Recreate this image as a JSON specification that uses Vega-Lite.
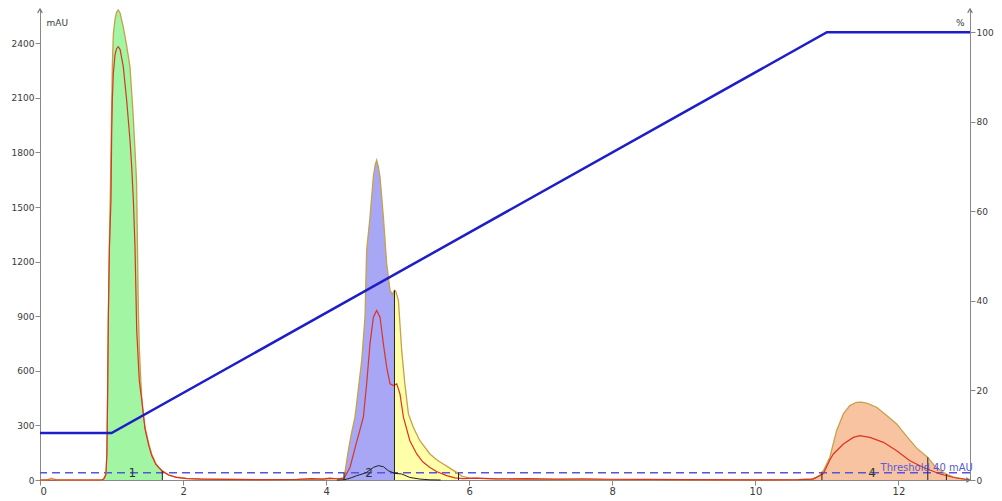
{
  "$schema": "https://vega.github.io/schema/vega-lite/v6.json",
  "width": 930,
  "height": 471,
  "autosize": {"type": "none"},
  "padding": {"left": 40, "top": 9, "right": 32, "bottom": 21},
  "background": "white",
  "config": {
    "view": {"stroke": null},
    "font": "DejaVu Sans",
    "axis": {"grid": false, "domainColor": "#888888", "tickColor": "#888888", "labelColor": "#3a3a3a", "labelFontSize": 9, "tickSize": 5, "labelPadding": 1, "titleColor": "#3a3a3a", "titleFontSize": 9, "titleFontWeight": "normal", "format": "d"},
    "axisLeft": {"titleAngle": 0, "titleAlign": "left", "titleBaseline": "middle", "titleX": 6, "titleY": 13},
    "axisRight": {"titleAngle": 0, "titleAlign": "right", "titleBaseline": "middle", "titleX": -6, "titleY": 13},
    "axisBottom": {"labelFontSize": 10}
  },
  "datasets": {
    "uv": [
      {"x": 0, "v": 0}, {"x": 0.1, "v": 1}, {"x": 0.16, "v": 10}, {"x": 0.22, "v": 2}, {"x": 0.3, "v": 0},
      {"x": 0.6, "v": 0}, {"x": 0.86, "v": 0}, {"x": 0.885, "v": 4}, {"x": 0.905, "v": 12}, {"x": 0.925, "v": 35},
      {"x": 0.935, "v": 150}, {"x": 0.945, "v": 480}, {"x": 0.955, "v": 900}, {"x": 0.97, "v": 1300}, {"x": 0.985, "v": 1620},
      {"x": 1.0, "v": 2000}, {"x": 1.011, "v": 2270}, {"x": 1.025, "v": 2450}, {"x": 1.048, "v": 2530}, {"x": 1.07, "v": 2570},
      {"x": 1.094, "v": 2583}, {"x": 1.12, "v": 2565}, {"x": 1.14, "v": 2530}, {"x": 1.164, "v": 2490}, {"x": 1.21, "v": 2390},
      {"x": 1.258, "v": 2270}, {"x": 1.3, "v": 2020}, {"x": 1.328, "v": 1812}, {"x": 1.35, "v": 1640}, {"x": 1.362, "v": 1300},
      {"x": 1.374, "v": 950}, {"x": 1.388, "v": 730}, {"x": 1.405, "v": 580}, {"x": 1.422, "v": 455}, {"x": 1.445, "v": 360},
      {"x": 1.468, "v": 290}, {"x": 1.52, "v": 200}, {"x": 1.561, "v": 143}, {"x": 1.62, "v": 90}, {"x": 1.66, "v": 68},
      {"x": 1.71, "v": 50}, {"x": 1.8, "v": 28}, {"x": 1.91, "v": 15}, {"x": 2.05, "v": 9}, {"x": 2.24, "v": 6},
      {"x": 2.5, "v": 4}, {"x": 3.0, "v": 2}, {"x": 3.5, "v": 2}, {"x": 3.8, "v": 4}, {"x": 4.0, "v": 5},
      {"x": 4.15, "v": 6}, {"x": 4.25, "v": 10}, {"x": 4.31, "v": 161}, {"x": 4.35, "v": 250}, {"x": 4.403, "v": 345},
      {"x": 4.45, "v": 500}, {"x": 4.497, "v": 657}, {"x": 4.543, "v": 895}, {"x": 4.566, "v": 1262}, {"x": 4.613, "v": 1445},
      {"x": 4.659, "v": 1665}, {"x": 4.685, "v": 1730}, {"x": 4.706, "v": 1757}, {"x": 4.73, "v": 1720}, {"x": 4.753, "v": 1665},
      {"x": 4.8, "v": 1445}, {"x": 4.846, "v": 1189}, {"x": 4.893, "v": 1042}, {"x": 4.925, "v": 1020}, {"x": 4.955, "v": 1042},
      {"x": 4.97, "v": 1040}, {"x": 5.01, "v": 987}, {"x": 5.056, "v": 712}, {"x": 5.1, "v": 528}, {"x": 5.15, "v": 363},
      {"x": 5.218, "v": 290}, {"x": 5.31, "v": 216}, {"x": 5.45, "v": 143}, {"x": 5.55, "v": 110}, {"x": 5.637, "v": 88},
      {"x": 5.75, "v": 60}, {"x": 5.824, "v": 42}, {"x": 5.85, "v": 35}, {"x": 5.9, "v": 20}, {"x": 6.0, "v": 12},
      {"x": 6.3, "v": 6}, {"x": 6.8, "v": 3}, {"x": 7.5, "v": 2}, {"x": 8.5, "v": 2}, {"x": 9.5, "v": 1},
      {"x": 10.3, "v": 1}, {"x": 10.6, "v": 2}, {"x": 10.763, "v": 4}, {"x": 10.85, "v": 15}, {"x": 10.9, "v": 24},
      {"x": 10.93, "v": 40}, {"x": 10.95, "v": 51}, {"x": 11.04, "v": 124}, {"x": 11.135, "v": 271}, {"x": 11.23, "v": 363},
      {"x": 11.32, "v": 409}, {"x": 11.41, "v": 427}, {"x": 11.48, "v": 428}, {"x": 11.556, "v": 422}, {"x": 11.695, "v": 400},
      {"x": 11.835, "v": 354}, {"x": 11.975, "v": 308}, {"x": 12.115, "v": 240}, {"x": 12.255, "v": 175}, {"x": 12.41, "v": 124},
      {"x": 12.5, "v": 80}, {"x": 12.58, "v": 55}, {"x": 12.67, "v": 32}, {"x": 12.766, "v": 16}, {"x": 12.95, "v": 3},
      {"x": 13, "v": 0}
    ],
    "red": [
      {"x": 0, "v": 0}, {"x": 0.86, "v": 0}, {"x": 0.89, "v": 5}, {"x": 0.92, "v": 30}, {"x": 0.935, "v": 140},
      {"x": 0.945, "v": 460}, {"x": 0.955, "v": 880}, {"x": 0.97, "v": 1270}, {"x": 0.992, "v": 1537}, {"x": 1.002, "v": 1905},
      {"x": 1.011, "v": 2088}, {"x": 1.025, "v": 2234}, {"x": 1.048, "v": 2334}, {"x": 1.07, "v": 2370}, {"x": 1.094, "v": 2381},
      {"x": 1.12, "v": 2365}, {"x": 1.164, "v": 2271}, {"x": 1.211, "v": 2088}, {"x": 1.258, "v": 1868}, {"x": 1.282, "v": 1720},
      {"x": 1.305, "v": 1537}, {"x": 1.328, "v": 1280}, {"x": 1.352, "v": 822}, {"x": 1.388, "v": 546}, {"x": 1.422, "v": 440},
      {"x": 1.468, "v": 280}, {"x": 1.52, "v": 190}, {"x": 1.561, "v": 135}, {"x": 1.62, "v": 85}, {"x": 1.71, "v": 48},
      {"x": 1.8, "v": 26}, {"x": 1.91, "v": 14}, {"x": 2.05, "v": 8}, {"x": 2.24, "v": 5}, {"x": 2.6, "v": 3},
      {"x": 3.2, "v": 2}, {"x": 3.6, "v": 3}, {"x": 3.8, "v": 8}, {"x": 3.95, "v": 5}, {"x": 4.05, "v": 10},
      {"x": 4.15, "v": 7}, {"x": 4.25, "v": 10}, {"x": 4.333, "v": 69}, {"x": 4.42, "v": 200}, {"x": 4.52, "v": 345},
      {"x": 4.566, "v": 528}, {"x": 4.613, "v": 748}, {"x": 4.66, "v": 895}, {"x": 4.706, "v": 932}, {"x": 4.753, "v": 895},
      {"x": 4.8, "v": 748}, {"x": 4.846, "v": 620}, {"x": 4.893, "v": 528}, {"x": 4.94, "v": 519}, {"x": 4.986, "v": 528},
      {"x": 5.032, "v": 473}, {"x": 5.08, "v": 345}, {"x": 5.17, "v": 216}, {"x": 5.266, "v": 143}, {"x": 5.35, "v": 100},
      {"x": 5.45, "v": 69}, {"x": 5.55, "v": 45}, {"x": 5.685, "v": 24}, {"x": 5.8, "v": 12}, {"x": 5.917, "v": 8},
      {"x": 6.1, "v": 10}, {"x": 6.4, "v": 6}, {"x": 6.8, "v": 8}, {"x": 7.2, "v": 5}, {"x": 7.6, "v": 6},
      {"x": 8.0, "v": 4}, {"x": 8.5, "v": 3}, {"x": 9.0, "v": 2}, {"x": 10.0, "v": 1}, {"x": 10.6, "v": 2},
      {"x": 10.81, "v": 5}, {"x": 10.95, "v": 36}, {"x": 11.04, "v": 110}, {"x": 11.09, "v": 143}, {"x": 11.23, "v": 198},
      {"x": 11.37, "v": 234}, {"x": 11.46, "v": 244}, {"x": 11.6, "v": 234}, {"x": 11.79, "v": 207}, {"x": 11.975, "v": 161},
      {"x": 12.16, "v": 106}, {"x": 12.35, "v": 69}, {"x": 12.58, "v": 33}, {"x": 12.81, "v": 11}, {"x": 13, "v": 0}
    ],
    "black": [
      {"x": 4.15, "v": 0}, {"x": 4.263, "v": 2}, {"x": 4.35, "v": 12}, {"x": 4.427, "v": 24}, {"x": 4.5, "v": 32},
      {"x": 4.566, "v": 42}, {"x": 4.62, "v": 58}, {"x": 4.66, "v": 69}, {"x": 4.729, "v": 79}, {"x": 4.8, "v": 73},
      {"x": 4.869, "v": 51}, {"x": 4.962, "v": 36}, {"x": 5.056, "v": 33}, {"x": 5.17, "v": 14}, {"x": 5.31, "v": 5},
      {"x": 5.45, "v": 1}, {"x": 5.6, "v": 0}
    ],
    "grad": [
      {"x": 0, "p": 10.5}, {"x": 1.0, "p": 10.5}, {"x": 11.0, "p": 100}, {"x": 13, "p": 100}
    ],
    "ticks": [
      {"x": 1.71, "top": 50}, {"x": 4.25, "top": 40}, {"x": 4.955, "top": 1042}, {"x": 5.85, "top": 40},
      {"x": 10.93, "top": 45}, {"x": 12.41, "top": 124}, {"x": 12.67, "top": 32}
    ],
    "labels": [
      {"x": 1.29, "y": 40, "t": "1"}, {"x": 4.6, "y": 40, "t": "2"}, {"x": 11.63, "y": 40, "t": "4"}
    ],
    "thr": [{"x": 11.75, "y": 40, "t": "Threshold 40 mAU"}],
    "arrows": [
      {"x": 0, "y": 2588, "d": "up"}, {"x": 13, "y": 2588, "d": "up"}, {"x": 13, "y": 0, "d": "right"}
    ]
  },
  "layer": [
    {
      "layer": [
        {
          "data": {"name": "uv"},
          "transform": [{"filter": {"field": "x", "range": [0.86, 1.71]}}],
          "mark": {"type": "area", "color": "#a2f5a2", "opacity": 1},
          "encoding": {
            "x": {"field": "x", "type": "quantitative", "scale": {"domain": [0, 13], "nice": false, "zero": false}, "axis": {"values": [0, 2, 4, 6, 8, 10, 12], "title": null}},
            "y": {"field": "v", "type": "quantitative", "scale": {"domain": [0, 2588], "nice": false}, "axis": {"values": [0, 300, 600, 900, 1200, 1500, 1800, 2100, 2400], "title": "mAU"}}
          }
        },
        {
          "data": {"name": "uv"},
          "transform": [{"filter": {"field": "x", "range": [4.25, 4.955]}}],
          "mark": {"type": "area", "color": "#a7a7f6", "opacity": 1},
          "encoding": {
            "x": {"field": "x", "type": "quantitative", "scale": {"domain": [0, 13], "nice": false, "zero": false}, "axis": {"values": [0, 2, 4, 6, 8, 10, 12], "title": null}},
            "y": {"field": "v", "type": "quantitative", "scale": {"domain": [0, 2588], "nice": false}, "axis": {"values": [0, 300, 600, 900, 1200, 1500, 1800, 2100, 2400], "title": "mAU"}}
          }
        },
        {
          "data": {"name": "uv"},
          "transform": [{"filter": {"field": "x", "range": [4.955, 5.85]}}],
          "mark": {"type": "area", "color": "#ffffaa", "opacity": 1},
          "encoding": {
            "x": {"field": "x", "type": "quantitative", "scale": {"domain": [0, 13], "nice": false, "zero": false}, "axis": {"values": [0, 2, 4, 6, 8, 10, 12], "title": null}},
            "y": {"field": "v", "type": "quantitative", "scale": {"domain": [0, 2588], "nice": false}, "axis": {"values": [0, 300, 600, 900, 1200, 1500, 1800, 2100, 2400], "title": "mAU"}}
          }
        },
        {
          "data": {"name": "uv"},
          "transform": [{"filter": {"field": "x", "range": [10.763, 13]}}],
          "mark": {"type": "area", "color": "#f8c3a0", "opacity": 1},
          "encoding": {
            "x": {"field": "x", "type": "quantitative", "scale": {"domain": [0, 13], "nice": false, "zero": false}, "axis": {"values": [0, 2, 4, 6, 8, 10, 12], "title": null}},
            "y": {"field": "v", "type": "quantitative", "scale": {"domain": [0, 2588], "nice": false}, "axis": {"values": [0, 300, 600, 900, 1200, 1500, 1800, 2100, 2400], "title": "mAU"}}
          }
        },
        {
          "data": {"values": [{"t": 40}]},
          "mark": {"type": "rule", "color": "#5555dd", "strokeWidth": 1.5, "strokeDash": [8, 5]},
          "encoding": {
            "y": {"field": "t", "type": "quantitative", "scale": {"domain": [0, 2588], "nice": false}, "axis": {"values": [0, 300, 600, 900, 1200, 1500, 1800, 2100, 2400], "title": "mAU"}}
          }
        },
        {
          "data": {"name": "uv"},
          "mark": {"type": "line", "color": "#c8a048", "strokeWidth": 1.3},
          "encoding": {
            "x": {"field": "x", "type": "quantitative", "scale": {"domain": [0, 13], "nice": false, "zero": false}, "axis": {"values": [0, 2, 4, 6, 8, 10, 12], "title": null}},
            "y": {"field": "v", "type": "quantitative", "scale": {"domain": [0, 2588], "nice": false}, "axis": {"values": [0, 300, 600, 900, 1200, 1500, 1800, 2100, 2400], "title": "mAU"}}
          }
        },
        {
          "data": {"name": "red"},
          "mark": {"type": "line", "color": "#dd3322", "strokeWidth": 1.2},
          "encoding": {
            "x": {"field": "x", "type": "quantitative", "scale": {"domain": [0, 13], "nice": false, "zero": false}, "axis": {"values": [0, 2, 4, 6, 8, 10, 12], "title": null}},
            "y": {"field": "v", "type": "quantitative", "scale": {"domain": [0, 2588], "nice": false}, "axis": {"values": [0, 300, 600, 900, 1200, 1500, 1800, 2100, 2400], "title": "mAU"}}
          }
        },
        {
          "data": {"name": "black"},
          "mark": {"type": "line", "color": "#222222", "strokeWidth": 1},
          "encoding": {
            "x": {"field": "x", "type": "quantitative", "scale": {"domain": [0, 13], "nice": false, "zero": false}, "axis": {"values": [0, 2, 4, 6, 8, 10, 12], "title": null}},
            "y": {"field": "v", "type": "quantitative", "scale": {"domain": [0, 2588], "nice": false}, "axis": {"values": [0, 300, 600, 900, 1200, 1500, 1800, 2100, 2400], "title": "mAU"}}
          }
        },
        {
          "data": {"name": "ticks"},
          "mark": {"type": "rule", "color": "#222222", "strokeWidth": 1},
          "encoding": {
            "x": {"field": "x", "type": "quantitative", "scale": {"domain": [0, 13], "nice": false, "zero": false}, "axis": {"values": [0, 2, 4, 6, 8, 10, 12], "title": null}},
            "y": {"field": "top", "type": "quantitative", "scale": {"domain": [0, 2588], "nice": false}, "axis": {"values": [0, 300, 600, 900, 1200, 1500, 1800, 2100, 2400], "title": "mAU"}},
            "y2": {"datum": 0}
          }
        },
        {
          "data": {"name": "labels"},
          "mark": {"type": "text", "fontSize": 12, "color": "#333333", "baseline": "middle", "align": "center"},
          "encoding": {
            "x": {"field": "x", "type": "quantitative", "scale": {"domain": [0, 13], "nice": false, "zero": false}, "axis": {"values": [0, 2, 4, 6, 8, 10, 12], "title": null}},
            "y": {"field": "y", "type": "quantitative", "scale": {"domain": [0, 2588], "nice": false}, "axis": {"values": [0, 300, 600, 900, 1200, 1500, 1800, 2100, 2400], "title": "mAU"}},
            "text": {"field": "t"}
          }
        },
        {
          "data": {"name": "thr"},
          "mark": {"type": "text", "fontSize": 10, "color": "#5a5ad8", "baseline": "alphabetic", "align": "left", "dy": -2},
          "encoding": {
            "x": {"field": "x", "type": "quantitative", "scale": {"domain": [0, 13], "nice": false, "zero": false}, "axis": {"values": [0, 2, 4, 6, 8, 10, 12], "title": null}},
            "y": {"field": "y", "type": "quantitative", "scale": {"domain": [0, 2588], "nice": false}, "axis": {"values": [0, 300, 600, 900, 1200, 1500, 1800, 2100, 2400], "title": "mAU"}},
            "text": {"field": "t"}
          }
        },
        {
          "data": {"name": "arrows"},
          "mark": {"type": "point", "filled": false, "color": "#777777", "strokeWidth": 1.2, "size": 60, "opacity": 1},
          "encoding": {
            "x": {"field": "x", "type": "quantitative", "scale": {"domain": [0, 13], "nice": false, "zero": false}, "axis": {"values": [0, 2, 4, 6, 8, 10, 12], "title": null}},
            "y": {"field": "y", "type": "quantitative", "scale": {"domain": [0, 2588], "nice": false}, "axis": {"values": [0, 300, 600, 900, 1200, 1500, 1800, 2100, 2400], "title": "mAU"}},
            "shape": {"field": "d", "type": "nominal", "legend": null,
              "scale": {"domain": ["up", "right"], "range": ["M-0.6,1L0,0L0.6,1", "M-1,-0.6L0,0L-1,0.6"]}}
          }
        }
      ]
    },
    {
      "layer": [
        {
          "data": {"name": "grad"},
          "mark": {"type": "line", "color": "#1e1ec8", "strokeWidth": 2.5},
          "encoding": {
            "x": {"field": "x", "type": "quantitative", "scale": {"domain": [0, 13], "nice": false, "zero": false}, "axis": {"values": [0, 2, 4, 6, 8, 10, 12], "title": null}},
            "y": {"field": "p", "type": "quantitative", "scale": {"domain": [0, 105.2], "nice": false},
              "axis": {"orient": "right", "values": [0, 20, 40, 60, 80, 100], "title": "%"}}
          }
        }
      ]
    }
  ],
  "resolve": {"scale": {"y": "independent"}}
}
